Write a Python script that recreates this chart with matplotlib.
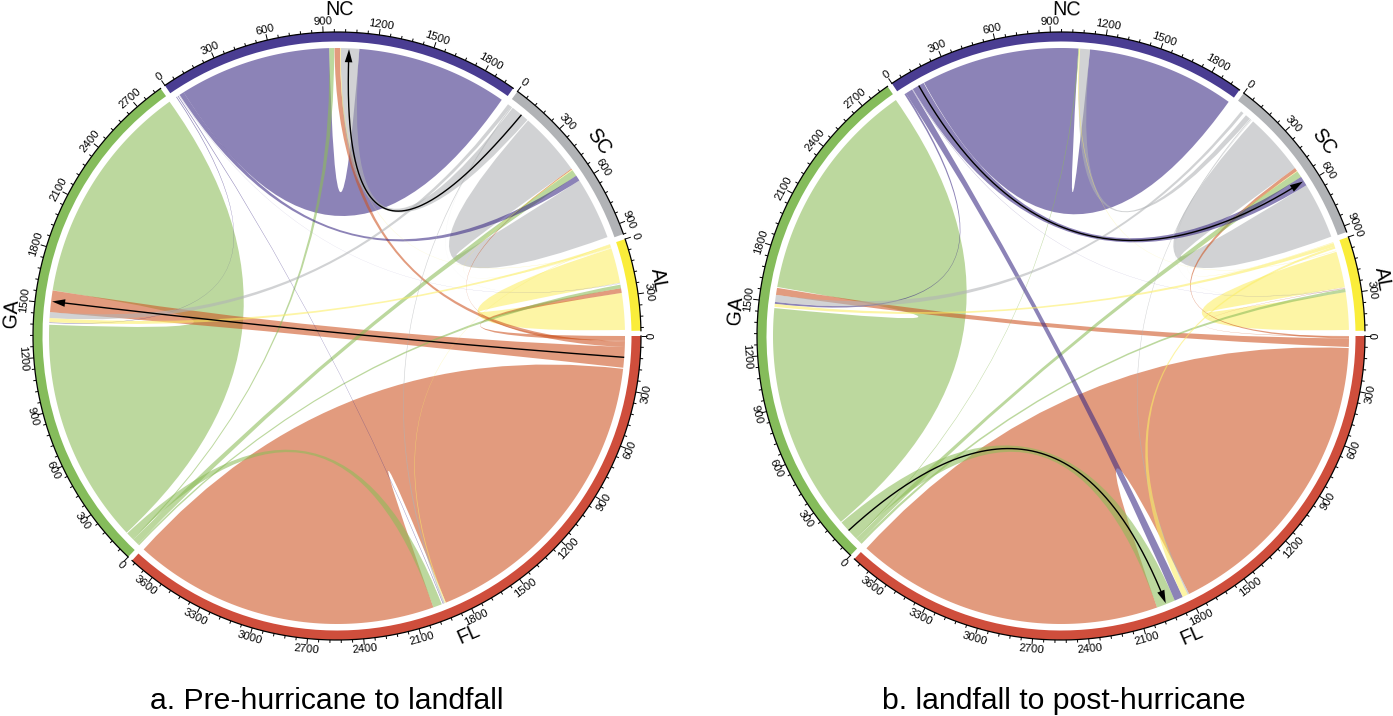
import numpy as np
import matplotlib
matplotlib.use("Agg")
import matplotlib.pyplot as plt
from matplotlib.patches import Wedge, PathPatch, Polygon
from matplotlib.path import Path

plt.rcParams['font.family'] = ['Liberation Sans', 'DejaVu Sans']

# ---------- data ----------
sector_names = ["FL", "GA", "NC", "SC", "AL"]

pre_totals = {"FL": 3740, "GA": 2857, "NC": 1975, "SC": 960, "AL": 497}
post_totals = {"FL": 3760, "GA": 2870, "NC": 1975, "SC": 935, "AL": 510}

# source, source from, source to, target, target from, target to (axis units)
pre_links = [
    ("FL", 185, 1915, "FL", 1990, 3734),
    ("GA", 100, 1380, "GA", 1575, 2855),
    ("NC", 65, 930, "NC", 1100, 1960),
    ("SC", 145, 510, "SC", 590, 946),
    ("AL", 25, 224, "AL", 282, 491),
    ("FL", 62, 179, "GA", 1451, 1574),
    ("FL", 33, 62, "NC", 960, 992),
    ("FL", 27, 33, "SC", 510, 516),
    ("FL", 0, 27, "AL", 255, 282),
    ("GA", 52, 95, "FL", 1940, 1990),
    ("GA", 10, 45, "SC", 520, 558),
    ("GA", 0, 10, "AL", 235, 255),
    ("GA", 45, 52, "NC", 930, 958),
    ("NC", 15, 19, "GA", 1390, 1393),
    ("NC", 25, 29, "FL", 1930, 1933),
    ("NC", 34, 35, "AL", 228, 229),
    ("NC", 38, 65, "SC", 558, 590),
    ("SC", 33, 140, "NC", 996, 1100),
    ("SC", 0, 22, "GA", 1418, 1451),
    ("SC", 22, 28, "FL", 1921, 1930),
    ("SC", 28, 29, "AL", 224, 225),
    ("AL", 3, 18, "GA", 1395, 1418),
    ("AL", 18, 20, "NC", 992, 996),
    ("AL", 21, 23, "SC", 516, 520),
    ("AL", 0, 3, "FL", 1915, 1921),
]
post_links = [
    ("FL", 68, 1800, "FL", 1996, 3751),
    ("GA", 170, 1465, "GA", 1585, 2865),
    ("NC", 153, 1055, "NC", 1121, 1965),
    ("SC", 138, 492, "SC", 608, 930),
    ("AL", 57, 262, "AL", 290, 504),
    ("FL", 14, 62, "GA", 1540, 1580),
    ("FL", 3, 14, "SC", 492, 512),
    ("FL", 0, 3, "AL", 266, 268),
    ("GA", 47, 165, "FL", 1889, 1996),
    ("GA", 15, 42, "SC", 515, 552),
    ("GA", 0, 15, "AL", 272, 290),
    ("GA", 42, 47, "NC", 1055, 1060),
    ("NC", 25, 35, "GA", 1489, 1500),
    ("NC", 35, 75, "FL", 1840, 1889),
    ("NC", 76, 78, "AL", 270, 271),
    ("NC", 80, 150, "SC", 552, 608),
    ("SC", 85, 115, "NC", 1065, 1121),
    ("SC", 50, 67, "GA", 1500, 1540),
    ("SC", 117, 122, "FL", 1800, 1809),
    ("SC", 125, 127, "AL", 262, 263),
    ("AL", 5, 25, "GA", 1472, 1489),
    ("AL", 25, 38, "FL", 1809, 1840),
    ("AL", 50, 52, "NC", 1060, 1065),
    ("AL", 0, 3, "SC", 512, 515),
]
# source, position, target, position
pre_arrows = [("FL", 120, "GA", 1512), ("SC", 96, "NC", 1042)]
post_arrows = [("NC", 119, "SC", 580), ("GA", 105, "FL", 1942)]

captions = ["a. Pre-hurricane to landfall", "b. landfall to post-hurricane"]

# ---------- style ----------
track_colours = {"FL": "#CF4E3C", "GA": "#85BC5B", "NC": "#4A3D92",
                 "SC": "#B1B3B6", "AL": "#FAED3A"}
link_colours = {"FL": "#CD5421", "GA": "#8CBC58", "NC": "#3A2983",
                "SC": "#B0B3B5", "AL": "#FCEE64"}
LINK_ALPHA = 0.58
R_OUT, R_TRACK, R_LINK = 304.0, 294.5, 288.0
GAP = 1.0
CY = 336.0


def layout(totals):
    per_unit = (360.0 - GAP * len(sector_names)) / sum(totals.values())
    starts, pos = {}, 0.0
    for s in sector_names:
        starts[s] = pos
        pos += totals[s] * per_unit + GAP
    return starts, per_unit


def polar(cx, theta, r):
    t = np.radians(theta)
    return cx + r * np.cos(t), CY + r * np.sin(t)


def facing(theta):
    theta = theta % 360
    return 90 - theta if theta < 180 else 270 - theta


def draw_panel(ax, cx, totals, links, arrows, caption, caption_x):
    starts, per_unit = layout(totals)
    ang = lambda s, u: starts[s] + u * per_unit

    for src, a0, a1, dst, b0, b1 in links:
        ta = np.linspace(ang(src, a0), ang(src, a1), 60)
        tb = np.linspace(ang(dst, b0), ang(dst, b1), 60)
        pa = np.column_stack(polar(cx, ta, R_LINK))
        pb = np.column_stack(polar(cx, tb, R_LINK))
        verts = list(pa) + [(cx, CY), pb[0]] + list(pb[1:]) + [(cx, CY), pa[0], pa[0]]
        codes = ([Path.MOVETO] + [Path.LINETO] * (len(pa) - 1)
                 + [Path.CURVE3, Path.CURVE3] + [Path.LINETO] * (len(pb) - 1)
                 + [Path.CURVE3, Path.CURVE3, Path.CLOSEPOLY])
        ax.add_patch(PathPatch(Path(verts, codes), fc=link_colours[src],
                               alpha=LINK_ALPHA, lw=0))

    for src, ua, dst, ub in arrows:
        p0 = np.array(polar(cx, ang(src, ua), R_LINK))
        p2 = np.array(polar(cx, ang(dst, ub), R_LINK - 1))
        c = np.array([cx, CY])
        tt = np.linspace(0, 1, 200)[:, None]
        curve = (1 - tt) ** 2 * p0 + 2 * tt * (1 - tt) * c + tt ** 2 * p2
        head = 13.0
        d = np.hypot(*(curve - p2).T)
        keep = d > head * 0.8
        ax.plot(curve[keep, 0], curve[keep, 1], color="black", lw=1.0,
                solid_capstyle="butt")
        u = p2 - curve[d > head][-1]
        u = u / np.hypot(*u)
        n = np.array([-u[1], u[0]])
        ax.add_patch(Polygon([p2, p2 - head * u + 3.8 * n, p2 - head * u - 3.8 * n],
                             fc="black", ec="none"))

    for s in sector_names:
        t0 = ang(s, 0)
        t1 = ang(s, totals[s])
        ax.add_patch(Wedge((cx, CY), R_OUT, t0, t1, width=R_OUT - R_TRACK,
                           fc=track_colours[s], lw=0))
        arc = np.linspace(t0, t1, 200)
        ax.plot(*polar(cx, arc, R_OUT), color="black", lw=0.9)
        for v in range(0, totals[s] + 1, 60):
            major = v % 300 == 0
            t = ang(s, v)
            ln = 6.0 if major else 3.0
            x, y = polar(cx, np.array([t, t]), np.array([R_OUT, R_OUT + ln]))
            ax.plot(x, y, color="black", lw=0.7, solid_capstyle="butt")
            if major:
                lx, ly = polar(cx, t, R_OUT + 10.5)
                ax.text(lx, ly, str(v), fontsize=8.2, ha="center", va="center",
                        rotation=facing(t), rotation_mode="anchor")
        mid = 0.5 * (t0 + t1)
        nx, ny = polar(cx, mid, 326.5)
        ax.text(nx, ny, s, fontsize=14.2, ha="center", va="center",
                rotation=facing(mid), rotation_mode="anchor")
    ax.text(caption_x, 709, caption, fontsize=21.7, ha="center", va="baseline")


fig = plt.figure(figsize=(13.93, 7.16), dpi=100)
ax = fig.add_axes([0, 0, 1, 1])
ax.set_xlim(0, 1393)
ax.set_ylim(716, 0)
ax.axis("off")

draw_panel(ax, 337.0, pre_totals, pre_links, pre_arrows, captions[0], 327)
draw_panel(ax, 1061.0, post_totals, post_links, post_arrows, captions[1], 1064)

fig.savefig("out.png", dpi=100)
